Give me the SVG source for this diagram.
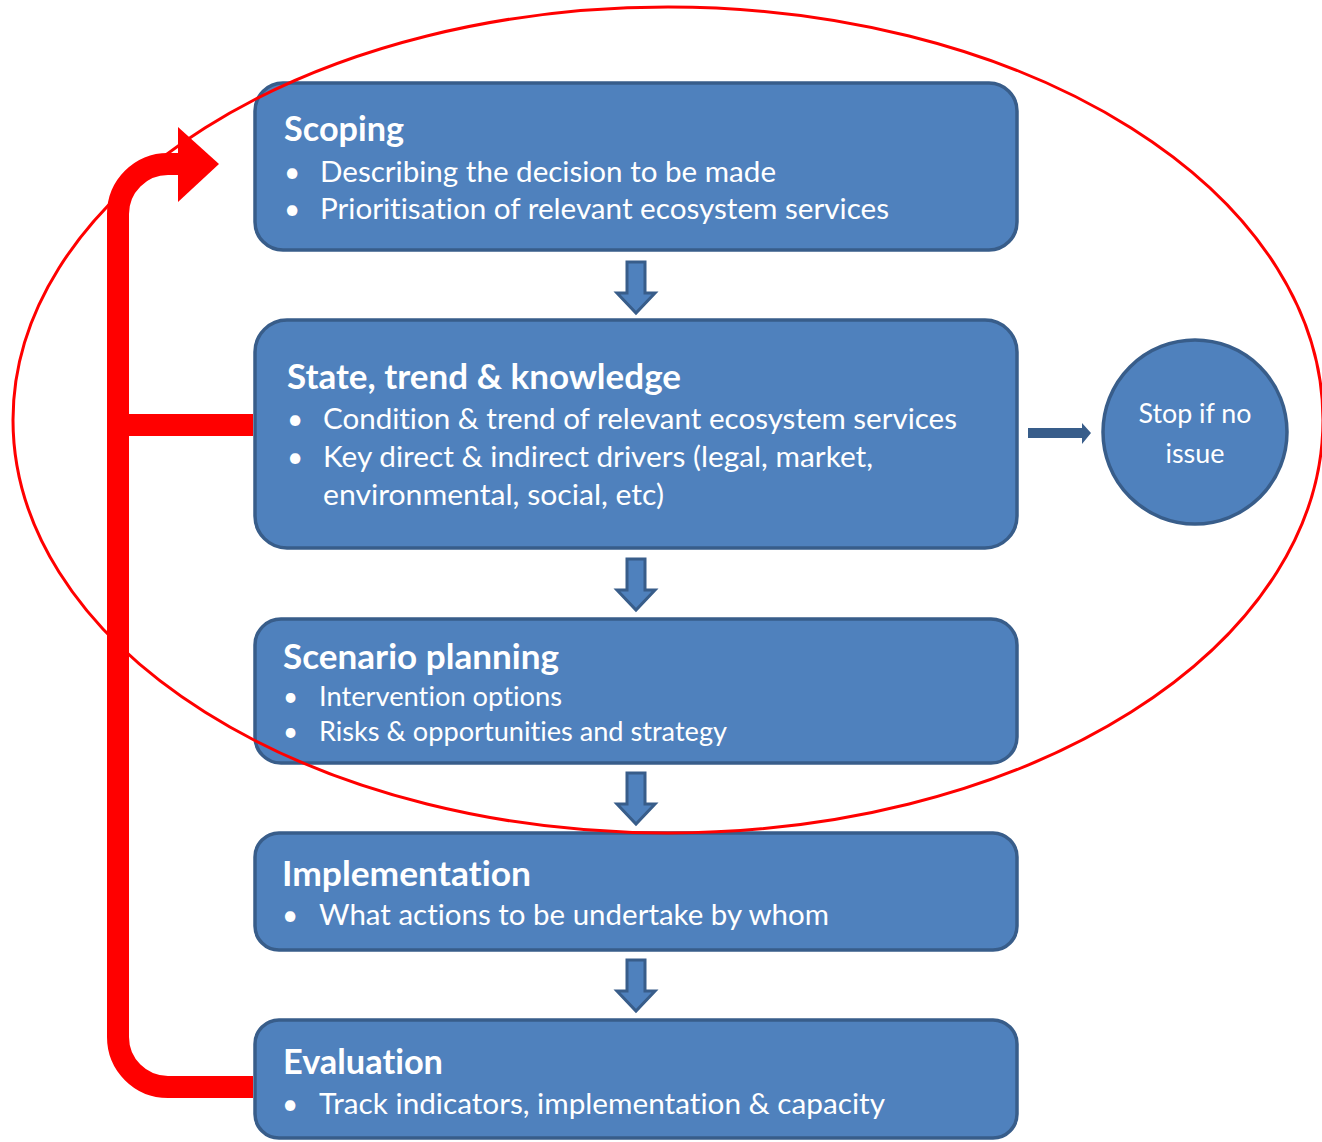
<svg xmlns="http://www.w3.org/2000/svg" width="1322" height="1142" viewBox="0 0 1322 1142">
<style>
.box{fill:#4f81bd;stroke:#385d8a;stroke-width:3.5}
.t{font-family:Lato,"Open Sans","Liberation Sans",sans-serif;fill:#ffffff;font-variant-ligatures:none}
.h{font-size:34px;font-weight:bold}
.b{font-size:28px}
.s{font-size:26px}
.dn{fill:#4f81bd;stroke:#385d8a;stroke-width:3;stroke-linejoin:miter}
.red{fill:none;stroke:#ff0000;stroke-width:22}
</style>
<rect width="1322" height="1142" fill="#ffffff"/>
<g id="scoping">
<rect class="box" x="255" y="83" width="762" height="167" rx="28"/>
<text class="t h" x="284" y="141" textLength="120" lengthAdjust="spacingAndGlyphs">Scoping</text>
<text class="t b" x="284" y="182">•</text>
<text class="t b" x="320" y="182" textLength="456" lengthAdjust="spacingAndGlyphs">Describing the decision to be made</text>
<text class="t b" x="284" y="219">•</text>
<text class="t b" x="320" y="219" textLength="569" lengthAdjust="spacingAndGlyphs">Prioritisation of relevant ecosystem services</text>
</g>
<g id="state">
<rect class="box" x="255" y="320" width="762" height="228" rx="32"/>
<text class="t h" x="287" y="389" textLength="394" lengthAdjust="spacingAndGlyphs">State, trend &amp; knowledge</text>
<text class="t b" x="287" y="429">•</text>
<text class="t b" x="323" y="429" textLength="634" lengthAdjust="spacingAndGlyphs">Condition &amp; trend of relevant ecosystem services</text>
<text class="t b" x="287" y="467">•</text>
<text class="t b" x="323" y="467" textLength="550" lengthAdjust="spacingAndGlyphs">Key direct &amp; indirect drivers (legal, market,</text>
<text class="t b" x="323" y="505" textLength="341" lengthAdjust="spacingAndGlyphs">environmental, social, etc)</text>
</g>
<g id="scenario">
<rect class="box" x="255" y="619" width="762" height="144" rx="26"/>
<text class="t h" x="283" y="669" textLength="276" lengthAdjust="spacingAndGlyphs">Scenario planning</text>
<text class="t s" x="283" y="706">•</text>
<text class="t s" x="319" y="706" textLength="243" lengthAdjust="spacingAndGlyphs">Intervention options</text>
<text class="t s" x="283" y="741">•</text>
<text class="t s" x="319" y="741" textLength="408" lengthAdjust="spacingAndGlyphs">Risks &amp; opportunities and strategy</text>
</g>
<g id="implementation">
<rect class="box" x="255" y="833" width="762" height="117" rx="24"/>
<text class="t h" x="282" y="886" textLength="249" lengthAdjust="spacingAndGlyphs">Implementation</text>
<text class="t b" x="282" y="925">•</text>
<text class="t b" x="319" y="925" textLength="510" lengthAdjust="spacingAndGlyphs">What actions to be undertake by whom</text>
</g>
<g id="evaluation">
<rect class="box" x="255" y="1020" width="762" height="118" rx="24"/>
<text class="t h" x="283" y="1074" textLength="160" lengthAdjust="spacingAndGlyphs">Evaluation</text>
<text class="t b" x="282" y="1114">•</text>
<text class="t b" x="319" y="1114" textLength="566" lengthAdjust="spacingAndGlyphs">Track indicators, implementation &amp; capacity</text>
</g>
<g id="stop">
<circle class="box" cx="1195" cy="432" r="92"/>
<text class="t" font-size="26" x="1195" y="423" text-anchor="middle" textLength="113" lengthAdjust="spacingAndGlyphs">Stop if no</text>
<text class="t" font-size="26" x="1195" y="463" text-anchor="middle" textLength="59" lengthAdjust="spacingAndGlyphs">issue</text>
</g>
<g id="connectors">
<polygon class="dn" points="627,262 645,262 645,293 655,293 636,313 617,293 627,293"/>
<polygon class="dn" points="627,559 645,559 645,590 655,590 636,610 617,590 627,590"/>
<polygon class="dn" points="627,773 645,773 645,804 655,804 636,824 617,804 627,804"/>
<polygon class="dn" points="627,960 645,960 645,991 655,991 636,1011 617,991 627,991"/>
<polygon fill="#385d8a" points="1028,428 1082,428 1082,423 1091,433 1082,444 1082,438 1028,438"/>
<path class="red" d="M253,1087 H168 A50,50 0 0 1 118,1037 V214 A50,50 0 0 1 168,164 H182"/>
<path class="red" d="M118,425 H253"/>
<polygon fill="#ff0000" points="178,127 219,164 178,202"/>
</g>
<ellipse cx="668" cy="420" rx="655" ry="413" fill="none" stroke="#ff0000" stroke-width="3"/>
</svg>
